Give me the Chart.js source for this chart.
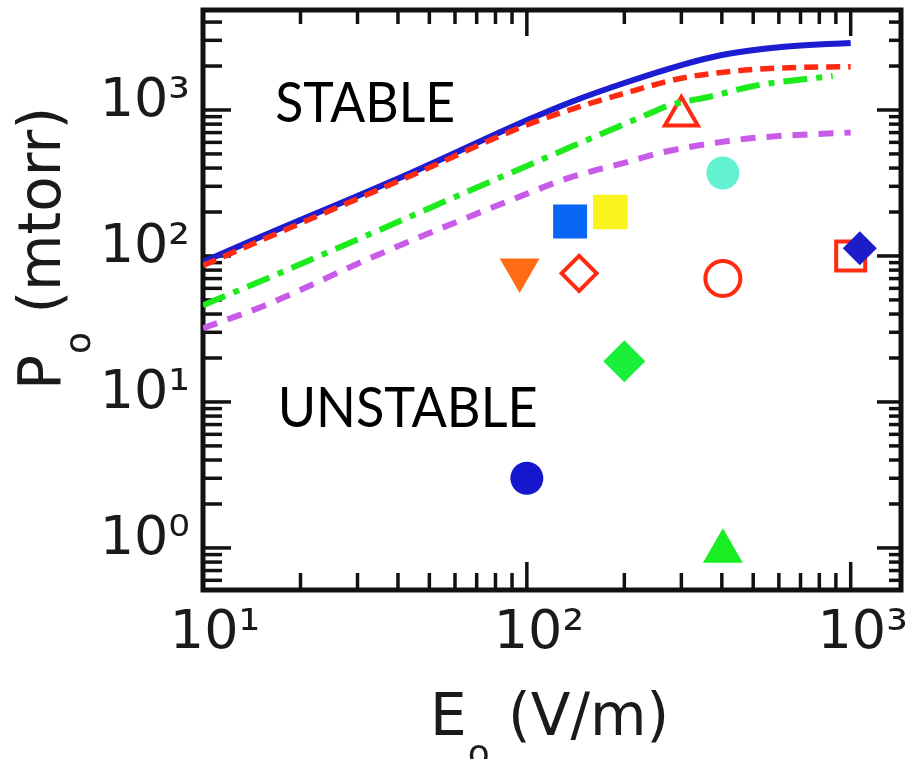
<!DOCTYPE html>
<html>
<head>
<meta charset="utf-8">
<script src="https://cdn.jsdelivr.net/npm/chart.js@4.4.1/dist/chart.umd.min.js"></script>
<style>
html,body{margin:0;padding:0;background:#fff;}
#wrap{width:905px;height:759px;position:relative;}
</style>
</head>
<body>
<div id="wrap"><canvas id="c" width="905" height="759"></canvas></div>
<script>
// ---------------- data ----------------
const blueE   = [10, 14, 44, 100, 137, 200, 300, 400, 612, 1000];
const blueP   = [91, 126, 372, 850, 1135, 1530, 2030, 2380, 2700, 2880];
const redE    = [10, 14, 44, 100, 145, 200, 300, 442, 612, 1000];
const redP    = [86, 119, 356, 790, 1050, 1300, 1650, 1850, 1940, 1980];
const greenE  = [10, 14.8, 30.8, 64, 137, 241, 272, 375, 501, 880];
const greenP  = [46, 66, 133, 270, 559, 953, 1065, 1247, 1460, 1710];
const purpleE = [10, 15.6, 34, 98, 137, 200, 265, 442, 612, 1000];
const purpleP = [32, 46, 100, 262, 347, 434, 515, 623, 665, 700];

// measured points
const markerE = [95, 145, 136, 181, 300, 403, 403, 1000, 1067, 200, 100, 403];
const markerP = [80, 76, 172, 200, 910, 370, 70, 100, 113, 19, 3.0, 0.95];

// axes
const xTickValues = [10,20,30,40,50,60,70,80,90,100,200,300,400,500,600,700,800,900,1000];
const yTickValues = [0.6,0.7,0.8,0.9,1,2,3,4,5,6,7,8,9,10,20,30,40,50,60,70,80,90,100,200,300,400,500,600,700,800,900,1000,2000,3000,4000];
const xMajor = [10, 100, 1000];
const yMajor = [1, 10, 100, 1000];
const xTickLabels = ['10\u00B9', '10\u00B2', '10\u00B3'];
const yTickLabels = ['10\u2070', '10\u00B9', '10\u00B2', '10\u00B3'];
const xTitleMain = 'E', xTitleSub = 'o', xTitleRest = ' (V/m)';
const yTitleMain = 'P', yTitleSub = 'o', yTitleRest = ' (mtorr)';
const regionLabels = ['STABLE', 'UNSTABLE'];
const regionAnchorE = [16.7, 17.0];
const regionAnchorP = [828, 6.75];

// ---------------- build ----------------
const pts = (xs, ys) => xs.map((x, i) => ({x, y: ys[i]}));

const lineDefaults = {type: 'line', showLine: true, pointRadius: 0, fill: false,
  cubicInterpolationMode: 'monotone', borderCapStyle: 'butt'};

const datasets = [
  Object.assign({}, lineDefaults, {label: 'purple', data: pts(purpleE, purpleP), borderColor: '#c95be9', borderWidth: 6, borderDash: [15, 11]}),
  Object.assign({}, lineDefaults, {label: 'green', data: pts(greenE, greenP), borderColor: '#1eeb1e', borderWidth: 6, borderDash: [24, 9, 6, 9]}),
  Object.assign({}, lineDefaults, {label: 'red', data: pts(redE, redP), borderColor: '#ff2a10', borderWidth: 5.5, borderDash: [14, 8]}),
  Object.assign({}, lineDefaults, {label: 'blue', data: pts(blueE, blueP), borderColor: '#1c1cd0', borderWidth: 6}),
  {
    type: 'scatter', label: 'measurements', data: pts(markerE, markerP), showLine: false,
    pointStyle: ['triangle','rectRot','rect','rect','triangle','circle','circle','rect','rectRot','rectRot','circle','triangle'],
    pointRotation: [180,0,0,0,0,0,0,0,0,0,0,0],
    pointRadius: [23, 17.5, 24, 24.5, 19, 16.5, 17.5, 20.5, 17, 21, 16.5, 23],
    pointBackgroundColor: ['#ff6c14','rgba(0,0,0,0)','#0a66f5','#f9f31e','rgba(0,0,0,0)','#62f2d2','rgba(0,0,0,0)','rgba(0,0,0,0)','#1c1cc8','#1aef3a','#1616cc','#18ee22'],
    pointBorderColor: ['#ff6c14','#ff2a10','#0a66f5','#f9f31e','#ff2a10','#62f2d2','#ff2a10','#ff2a10','#1c1cc8','#1aef3a','#1616cc','#18ee22'],
    pointBorderWidth: [0,4,0,0,4,0,4,4,0,0,0,0],
    pointHoverRadius: [23, 17.5, 24, 24.5, 19, 16.5, 17.5, 20.5, 17, 21, 16.5, 23]
  }
];

const frameTicks = {
  id: 'frameTicks',
  beforeDatasetsDraw(chart) {
    const {ctx, chartArea: a, scales: {x, y}} = chart;
    ctx.save();
    ctx.strokeStyle = '#111';
    ctx.lineWidth = 3.5;
    ctx.lineCap = 'butt';
    const seg = (x1, y1, x2, y2) => { ctx.beginPath(); ctx.moveTo(x1, y1); ctx.lineTo(x2, y2); ctx.stroke(); };
    x.ticks.forEach(t => {
      const px = x.getPixelForValue(t.value);
      if (px <= a.left + 2 || px >= a.right - 2) return;
      const major = xMajor.includes(t.value);
      seg(px, a.bottom, px, a.bottom - (major ? 28 : 17));
      seg(px, a.top, px, a.top + (major ? 26 : 14));
    });
    y.ticks.forEach(t => {
      const py = y.getPixelForValue(t.value);
      if (py <= a.top + 2 || py >= a.bottom - 2) return;
      const major = yMajor.includes(t.value);
      seg(a.left, py, a.left + (major ? 28 : 19), py);
      seg(a.right, py, a.right - (major ? 24 : 12), py);
    });
    ctx.lineWidth = 5;
    ctx.strokeRect(a.left, a.top, a.right - a.left, a.bottom - a.top);
    ctx.restore();
  },
  afterDraw(chart) {
    const {ctx, scales: {x, y}} = chart;
    ctx.save();
    ctx.fillStyle = '#000';
    const targetW = [180, 260];
    regionLabels.forEach((txt, i) => {
      ctx.font = '400 57px Lato';
      const w = ctx.measureText(txt).width;
      const px = x.getPixelForValue(regionAnchorE[i]);
      const py = y.getPixelForValue(regionAnchorP[i]);
      ctx.save();
      ctx.translate(px, py);
      ctx.scale(targetW[i] / w, 1);
      ctx.textBaseline = 'alphabetic';
      ctx.textAlign = 'left';
      ctx.fillText(txt, 0, 0);
      ctx.restore();
    });
    ctx.fillStyle = '#1a1a1a';
    ctx.textBaseline = 'alphabetic';
    ctx.textAlign = 'left';
    const mainFont = '58px "DejaVu Sans"', subFont = '36px "DejaVu Sans"';
    const drawTitle = (main, sub, rest, subDrop) => {
      let cx = 0;
      ctx.font = mainFont; ctx.fillText(main, cx, 0); cx += ctx.measureText(main).width + 1;
      ctx.font = subFont; ctx.fillText(sub, cx, subDrop); cx += ctx.measureText(sub).width;
      ctx.font = mainFont; ctx.fillText(rest, cx, 0);
    };
    ctx.save();
    ctx.translate(430, 735);
    drawTitle(xTitleMain, xTitleSub, xTitleRest, 30);
    ctx.restore();
    ctx.save();
    ctx.translate(60, 390);
    ctx.rotate(-Math.PI / 2);
    drawTitle(yTitleMain, yTitleSub, yTitleRest, 30);
    ctx.restore();
    ctx.restore();
  }
};

const tickFont = {family: 'DejaVu Sans', size: 54};

new Chart(document.getElementById('c'), {
  type: 'scatter',
  data: {datasets},
  options: {
    responsive: false,
    animation: false,
    events: [],
    layout: {autoPadding: false, padding: {top: 10, right: 4, left: 0, bottom: 0}},
    plugins: {legend: {display: false}, tooltip: {enabled: false}},
    scales: {
      x: {
        type: 'logarithmic', min: 10, max: 1430,
        grid: {display: false, drawTicks: false}, border: {display: false},
        afterBuildTicks: s => { s.ticks = xTickValues.map(v => ({value: v})); },
        afterFit: s => { s.height = 169; s.paddingLeft = 0; s.paddingRight = 0; s.paddingTop = 0; s.paddingBottom = 0; },
        ticks: {
          autoSkip: false, maxRotation: 0, minRotation: 0, padding: 12, labelOffset: 12,
          color: '#1a1a1a', font: tickFont,
          callback: v => { const i = xMajor.indexOf(v); return i >= 0 ? xTickLabels[i] : ''; }
        }
      },
      y: {
        type: 'logarithmic', min: 0.515, max: 4840,
        grid: {display: false, drawTicks: false}, border: {display: false},
        afterBuildTicks: s => { s.ticks = yTickValues.map(v => ({value: v})); },
        afterFit: s => { s.width = 203; s.paddingLeft = 0; s.paddingRight = 0; s.paddingTop = 0; s.paddingBottom = 0; },
        ticks: {
          autoSkip: false, padding: 13, labelOffset: -8,
          color: '#1a1a1a', font: tickFont,
          callback: v => { const i = yMajor.indexOf(v); return i >= 0 ? yTickLabels[i] : ''; }
        }
      }
    }
  },
  plugins: [frameTicks]
});
</script>
</body>
</html>
